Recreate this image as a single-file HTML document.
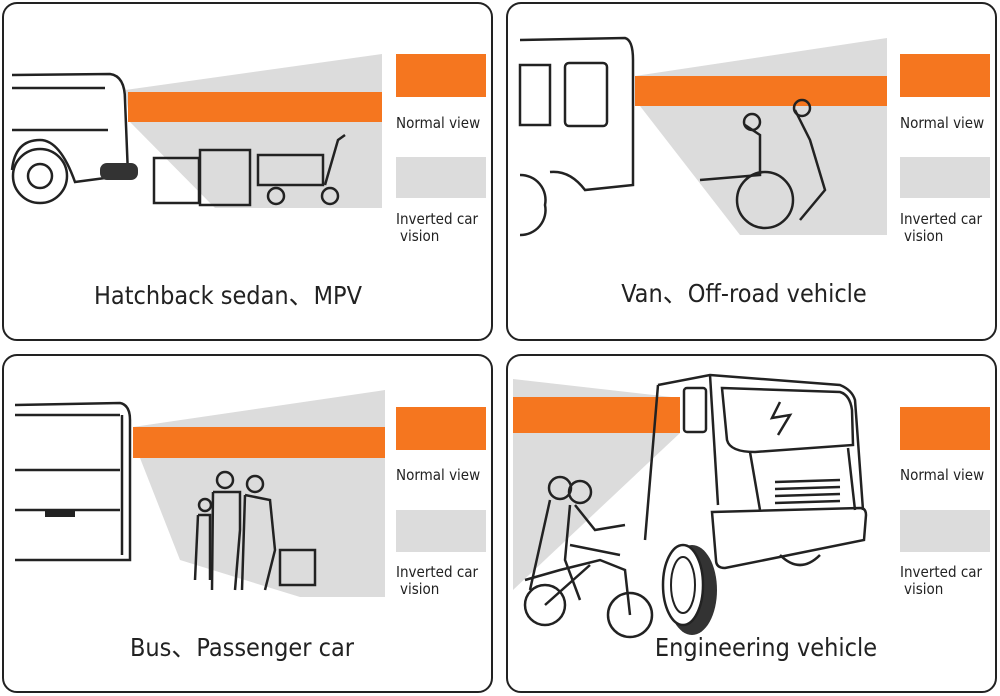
<!DOCTYPE html>
<html><head><style>
html,body{margin:0;padding:0;background:#fff;width:1000px;height:696px;overflow:hidden}
svg{display:block}
text{font-family:"DejaVu Sans Condensed","DejaVu Sans","Liberation Sans",sans-serif;fill:#222}
</style></head><body>
<svg width="1000" height="696" viewBox="0 0 1000 696" xmlns="http://www.w3.org/2000/svg">
<g fill="none" stroke="#222" stroke-width="2">
<rect x="3" y="3" width="489" height="337" rx="14"/>
<rect x="507" y="3" width="489" height="337" rx="14"/>
<rect x="3" y="355" width="489" height="337" rx="14"/>
<rect x="507" y="355" width="489" height="337" rx="14"/>
</g>
<!-- Panel 1 -->
<polygon points="125,90 382,54 382,208 215,208 130,122" fill="#dcdcdc"/>
<rect x="128" y="92" width="254" height="30" fill="#f5761f"/>
<g fill="none" stroke="#222" stroke-width="2.5">
<path d="M12,75 L110,74 Q125,76 125,100 L128,175 L75,182 Q60,140 40,140 Q15,140 12,170"/>
<line x1="12" y1="88" x2="105" y2="88"/><line x1="12" y1="130" x2="108" y2="130"/>
<circle cx="40" cy="176" r="27"/><circle cx="40" cy="176" r="12"/>
<rect x="154" y="158" width="45" height="45"/><rect x="200" y="150" width="50" height="55"/>
<rect x="258" y="155" width="65" height="30"/><circle cx="276" cy="196" r="8"/><circle cx="330" cy="196" r="8"/>
<path d="M325,185 L338,140 L345,135"/>
</g>
<rect x="100" y="163" width="38" height="17" rx="7" fill="#333"/>
<rect x="396" y="54" width="90" height="43" fill="#f5761f"/>
<rect x="396" y="157" width="90" height="41" fill="#dcdcdc"/>
<text x="396" y="128" font-size="15">Normal view</text>
<text x="396" y="224" font-size="15">Inverted car</text>
<text x="400" y="241" font-size="15">vision</text>
<text x="228" y="304" font-size="25" text-anchor="middle">Hatchback sedan、MPV</text>
<!-- Panel 2 -->
<polygon points="635,76 887,38 887,235 740,235 640,106" fill="#dcdcdc"/>
<rect x="635" y="76" width="252" height="30" fill="#f5761f"/>
<g fill="none" stroke="#222" stroke-width="2.5">
<path d="M520,40 L625,38 Q633,40 633,60 L633,185 L585,190 Q570,170 550,172"/>
<rect x="520" y="65" width="30" height="60"/><rect x="565" y="63" width="42" height="63" rx="4"/>
<path d="M520,175 A25,25 0 0 1 545,205 A25,25 0 0 1 520,235"/>
<circle cx="765" cy="200" r="28"/><path d="M745,125 L760,135 L760,175 L700,180 M795,110 L810,140 L825,190 L800,220"/>
<circle cx="752" cy="122" r="8"/><circle cx="802" cy="108" r="8"/>
</g>
<rect x="900" y="54" width="90" height="43" fill="#f5761f"/>
<rect x="900" y="157" width="90" height="41" fill="#dcdcdc"/>
<text x="900" y="128" font-size="15">Normal view</text>
<text x="900" y="224" font-size="15">Inverted car</text>
<text x="904" y="241" font-size="15">vision</text>
<text x="744" y="302" font-size="25" text-anchor="middle">Van、Off-road vehicle</text>
<!-- Panel 3 -->
<polygon points="133,427 385,390 385,597 300,597 180,560 140,458" fill="#dcdcdc"/>
<rect x="133" y="427" width="252" height="31" fill="#f5761f"/>
<g fill="none" stroke="#222" stroke-width="2.5">
<path d="M15,405 L120,403 Q130,405 130,420 L130,560 L15,560"/>
<line x1="15" y1="415" x2="120" y2="415"/><line x1="15" y1="470" x2="120" y2="470"/><line x1="15" y1="510" x2="120" y2="510"/>
<line x1="122" y1="415" x2="122" y2="555"/>
<circle cx="225" cy="480" r="8"/><path d="M213,492 L240,492 L240,530 L235,590 M213,492 L212,590"/>
<circle cx="255" cy="484" r="8"/><path d="M245,495 L270,500 L275,550 L265,590 M245,495 L242,590"/>
<circle cx="205" cy="505" r="6"/><path d="M198,515 L210,515 L210,580 M198,515 L195,580"/>
<rect x="280" y="550" width="35" height="35"/>
</g>
<rect x="45" y="511" width="30" height="6" fill="#222"/>
<rect x="396" y="407" width="90" height="43" fill="#f5761f"/>
<rect x="396" y="510" width="90" height="42" fill="#dcdcdc"/>
<text x="396" y="480" font-size="15">Normal view</text>
<text x="396" y="577" font-size="15">Inverted car</text>
<text x="400" y="594" font-size="15">vision</text>
<text x="242" y="656" font-size="25" text-anchor="middle">Bus、Passenger car</text>
<!-- Panel 4 -->
<polygon points="513,379 680,398 680,433 513,590" fill="#dcdcdc"/>
<rect x="513" y="397" width="167" height="36" fill="#f5761f"/>
<g fill="none" stroke="#222" stroke-width="2.5">
<path d="M658,385 L710,375 L840,385 Q852,390 855,400 L863,510 M658,385 L645,540"/>
<line x1="710" y1="375" x2="718" y2="505"/>
<path d="M722,388 L840,392 Q850,395 852,410 L853,445 L755,452 Q730,452 727,440 Z"/>
<path d="M750,452 L760,510 M848,448 L855,510"/>
<path d="M712,512 L860,508 Q866,508 866,515 L864,540 L725,568 Q716,568 716,560 Z"/>
<line x1="775" y1="482" x2="840" y2="480"/><line x1="775" y1="489" x2="840" y2="487"/><line x1="775" y1="496" x2="840" y2="494"/><line x1="775" y1="503" x2="840" y2="501"/>
<rect x="684" y="388" width="22" height="44" rx="3"/>
<path d="M780,555 Q800,575 820,555"/>
<circle cx="545" cy="605" r="20"/><circle cx="630" cy="615" r="22"/>
<path d="M525,580 L560,570 L600,560 L625,570 L630,615 M545,605 L590,565 M570,545 L620,555"/>
<circle cx="560" cy="488" r="11"/><circle cx="580" cy="492" r="11"/>
<path d="M550,500 L540,545 L530,590 M575,505 L595,530 L625,525 M570,505 L565,560 L580,600"/>
</g>
<ellipse cx="692" cy="590" rx="25" ry="45" fill="#333"/>
<ellipse cx="683" cy="585" rx="20" ry="40" fill="#fff" stroke="#222" stroke-width="2.5"/>
<ellipse cx="683" cy="585" rx="12" ry="28" fill="none" stroke="#222" stroke-width="2"/>
<path d="M780,402 L772,418 L790,415 L778,435" fill="none" stroke="#222" stroke-width="2.5"/>
<rect x="900" y="407" width="90" height="43" fill="#f5761f"/>
<rect x="900" y="510" width="90" height="42" fill="#dcdcdc"/>
<text x="900" y="480" font-size="15">Normal view</text>
<text x="900" y="577" font-size="15">Inverted car</text>
<text x="904" y="594" font-size="15">vision</text>
<text x="766" y="656" font-size="25" text-anchor="middle">Engineering vehicle</text>
</svg>
</body></html>
